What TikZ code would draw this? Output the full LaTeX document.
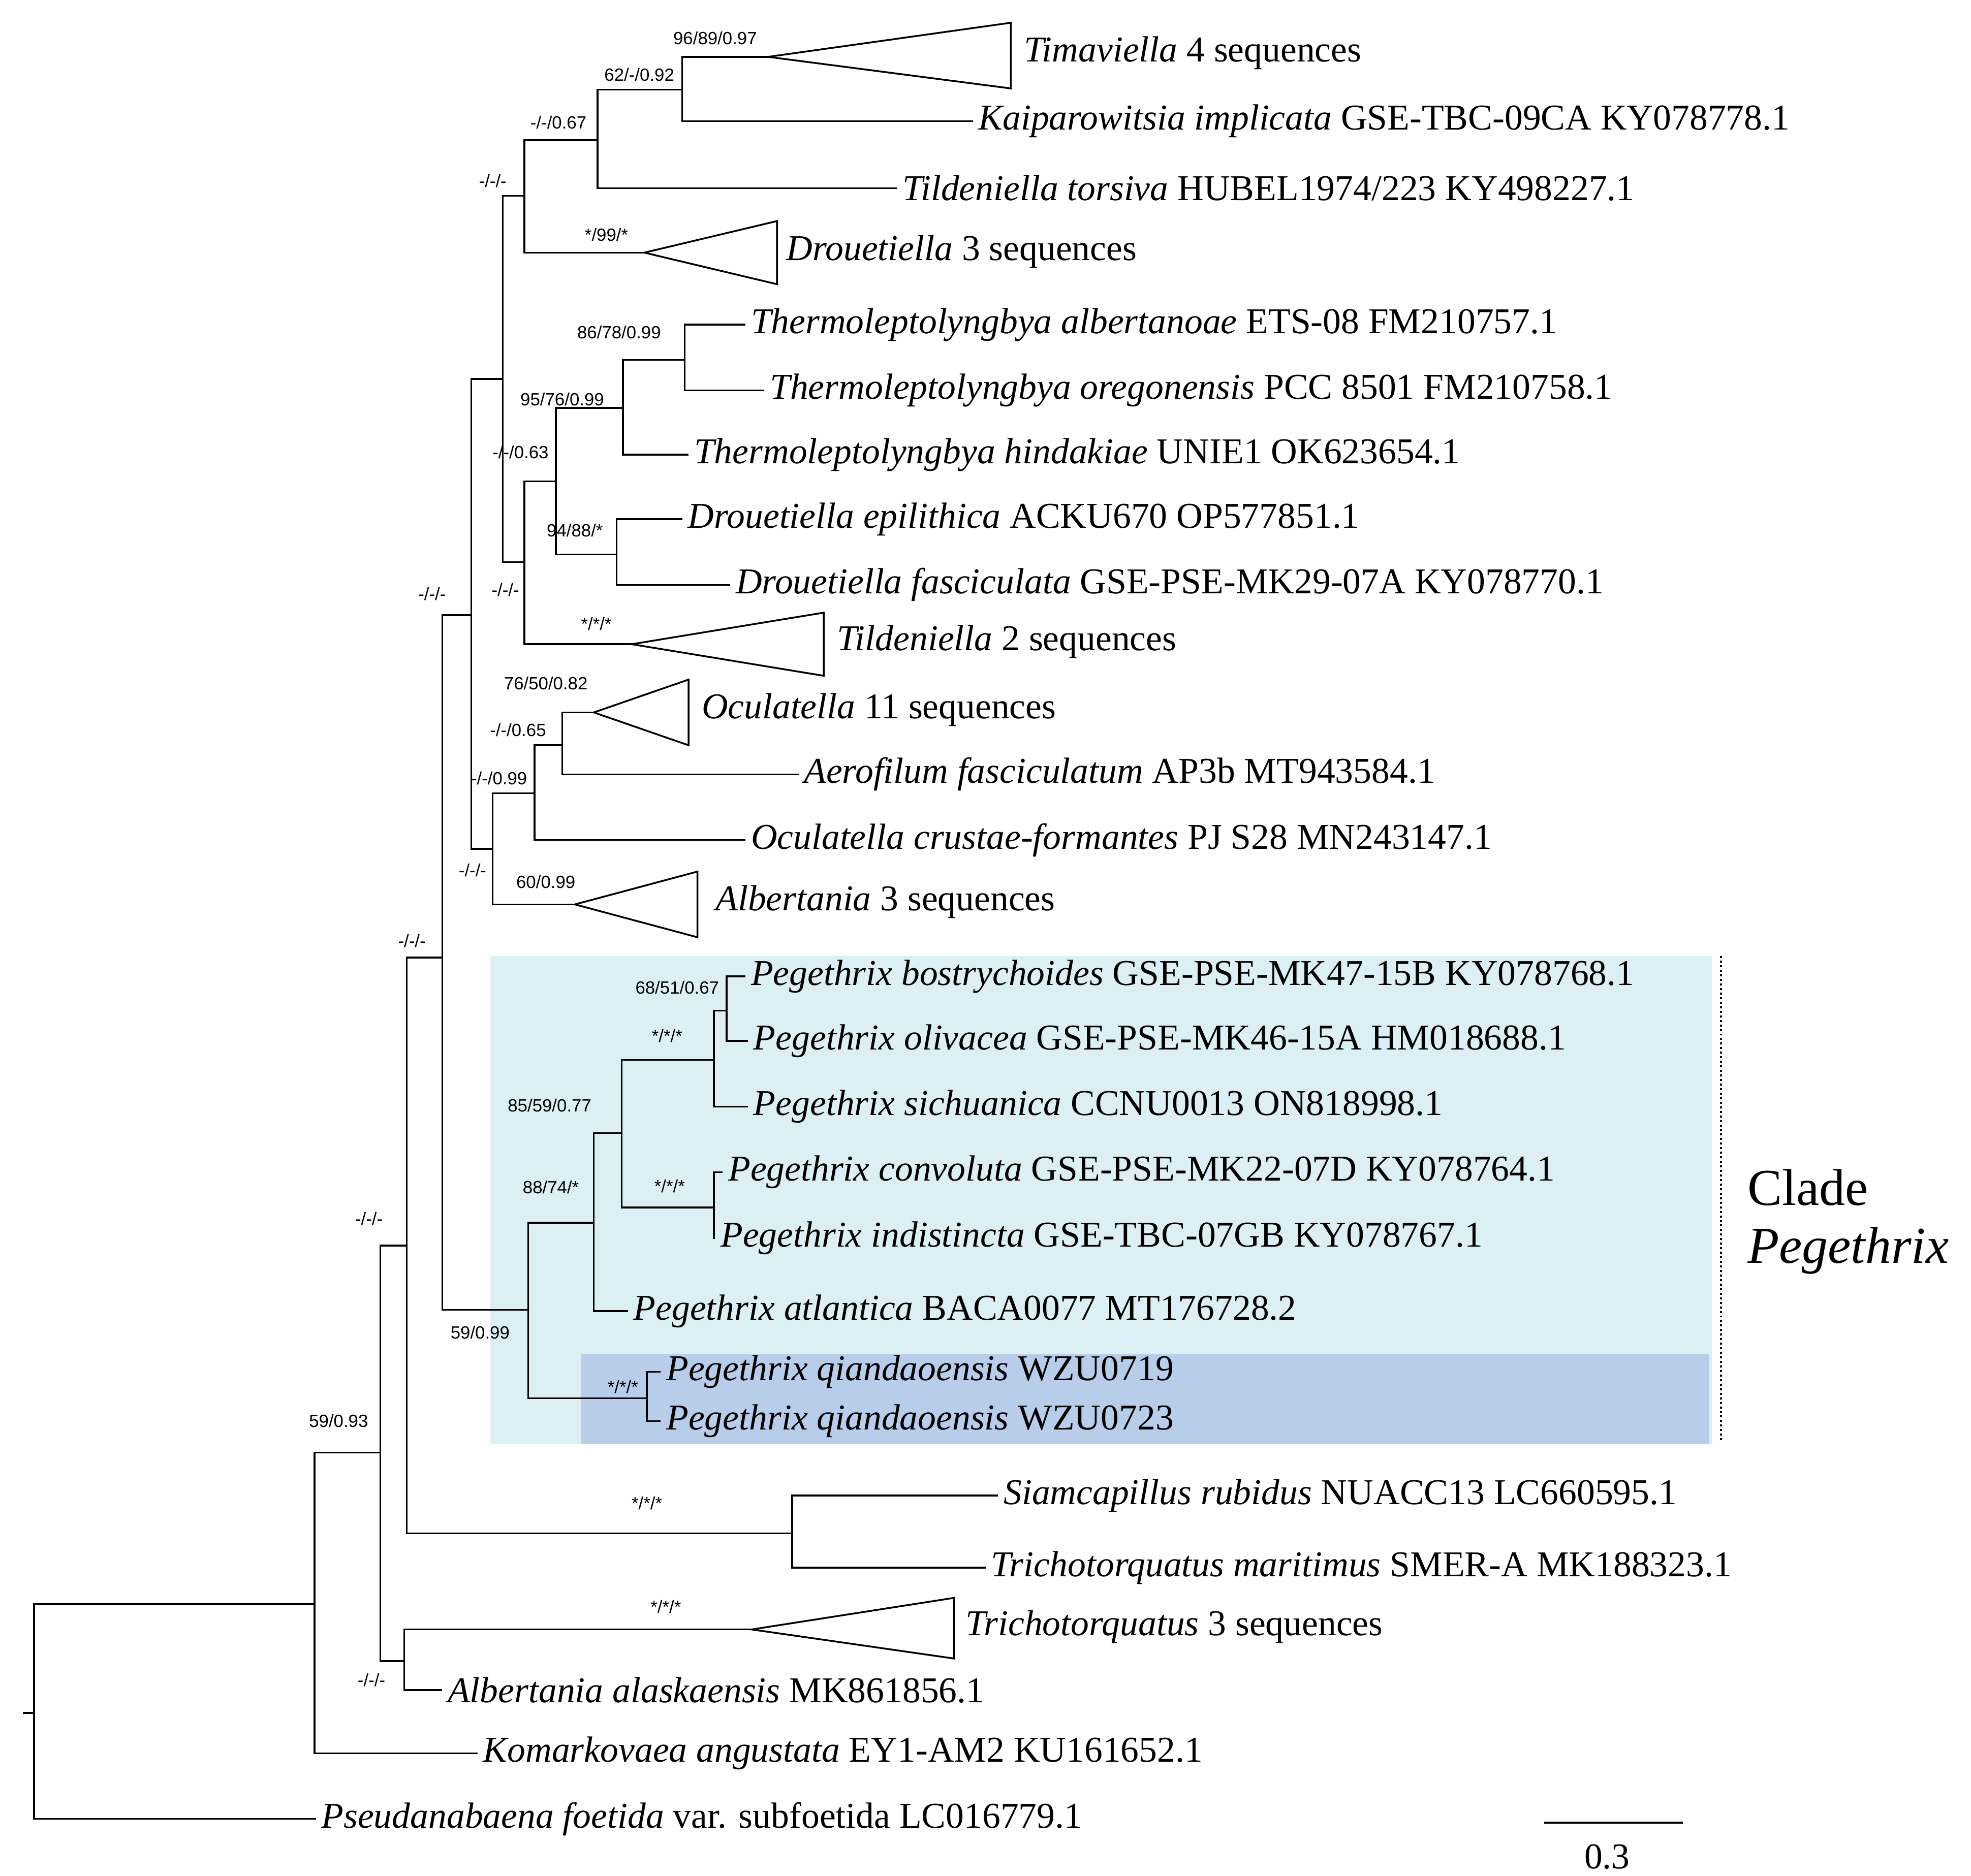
\documentclass[tikz,border=0pt]{standalone}
\usepackage{fontspec}
\setmainfont{Liberation Serif}
\newfontfamily\supfont{Liberation Sans}
\usetikzlibrary{positioning}
\definecolor{cladeblue}{HTML}{DCEFF4}
\definecolor{qianblue}{HTML}{B8CDE9}
\begin{document}
\begin{tikzpicture}[x=0.5pt,y=-0.5pt]
\tikzstyle{br} = [draw, line width=0.7pt]
\tikzstyle{tip} = [anchor=west, inner sep=2pt, font=\fontsize{14.4}{15}\selectfont]
\tikzstyle{sup} = [inner sep=0pt, font=\supfont\fontsize{7}{8}\selectfont]
\tikzstyle{tri} = [draw, line width=0.7pt, fill=white]
\useasboundingbox (0,0) rectangle (1560,1485);

% clade boxes
\fill [cladeblue] (388,757) rectangle (1355,1143);
\fill [qianblue] (460,1072) rectangle (1353,1143);
\draw [densely dotted, line width=0.8pt] (1362,757) -- (1362,1142);
\node [anchor=west, font=\fontsize{20.5}{22}\selectfont] (cl) at (1376,940) {Clade};
\node [anchor=west, font=\fontsize{20.5}{22}\selectfont\itshape] (clp) at (1376,990) {Pegethrix};

% internal nodes
\coordinate (nTK) at (540,71);
\coordinate (nA) at (473,111);
\coordinate (nB) at (415,155);
\coordinate (nTh1) at (542,285);
\coordinate (nTh2) at (493,323);
\coordinate (nDr) at (488,439);
\coordinate (nTD) at (440,381);
\coordinate (nTT) at (415,445);
\coordinate (nUp) at (398,300);
\coordinate (nOA) at (445,590);
\coordinate (nOO) at (423,628);
\coordinate (nOAl) at (390,672);
\coordinate (nMid) at (373,487);
\coordinate (nP6) at (575,800);
\coordinate (nP5) at (565,839);
\coordinate (nP4) at (565,956);
\coordinate (nP3) at (492,897);
\coordinate (nP2) at (470,968);
\coordinate (nQ) at (512,1107);
\coordinate (nP1) at (418,1037);
\coordinate (nM2) at (350,758);
\coordinate (nST) at (627,1214);
\coordinate (nM3) at (322,986);
\coordinate (nTA) at (320,1315);
\coordinate (nM4) at (301,1150);
\coordinate (nM5) at (249,1270);
\coordinate (root) at (27,1356);
\coordinate (stub) at (18,1356);

% collapsed clades (apex coordinates)
\coordinate (aTim) at (608,45);
\coordinate (aDro) at (510,200);
\coordinate (aTil) at (500,510);
\coordinate (aOcu) at (470,564);
\coordinate (aAlb) at (455,716);
\coordinate (aTri) at (595,1290);
\draw [tri] (aTim) -- (800,18) -- (800,70) -- cycle;
\draw [tri] (aDro) -- (615,175) -- (615,225) -- cycle;
\draw [tri] (aTil) -- (652,485) -- (652,535) -- cycle;
\draw [tri] (aOcu) -- (545,538) -- (545,590) -- cycle;
\draw [tri] (aAlb) -- (552,690) -- (552,742) -- cycle;
\draw [tri] (aTri) -- (755,1265) -- (755,1313) -- cycle;

% tips
\node [tip] (tTim) at (806,42) {\textit{Timaviella} 4 sequences};
\node [tip] (tKai) at (770,96) {\textit{Kaiparowitsia implicata} GSE-TBC-09CA KY078778.1};
\node [tip] (tTor) at (710,149) {\textit{Tildeniella torsiva} HUBEL1974/223 KY498227.1};
\node [tip] (tDro) at (618,199) {\textit{Drouetiella} 3 sequences};
\node [tip] (tAlbe) at (590,257) {\textit{Thermoleptolyngbya albertanoae} ETS-08 FM210757.1};
\node [tip] (tOre) at (605,309) {\textit{Thermoleptolyngbya oregonensis} PCC 8501 FM210758.1};
\node [tip] (tHin) at (545,360) {\textit{Thermoleptolyngbya hindakiae} UNIE1 OK623654.1};
\node [tip] (tEpi) at (540,411) {\textit{Drouetiella epilithica} ACKU670 OP577851.1};
\node [tip] (tFas) at (578,463) {\textit{Drouetiella fasciculata} GSE-PSE-MK29-07A KY078770.1};
\node [tip] (tTil) at (658,508) {\textit{Tildeniella} 2 sequences};
\node [tip] (tOcu) at (551,562) {\textit{Oculatella} 11 sequences};
\node [tip] (tAer) at (632,613) {\textit{Aerofilum fasciculatum} AP3b MT943584.1};
\node [tip] (tCru) at (590,665) {\textit{Oculatella crustae-formantes} PJ S28 MN243147.1};
\node [tip] (tAlb) at (562,714) {\textit{Albertania} 3 sequences};
\node [tip] (tBos) at (590,773) {\textit{Pegethrix bostrychoides} GSE-PSE-MK47-15B KY078768.1};
\node [tip] (tOli) at (592,824) {\textit{Pegethrix olivacea} GSE-PSE-MK46-15A HM018688.1};
\node [tip] (tSic) at (592,876) {\textit{Pegethrix sichuanica} CCNU0013 ON818998.1};
\node [tip] (tCon) at (572,928) {\textit{Pegethrix convoluta} GSE-PSE-MK22-07D KY078764.1};
\node [tip] (tInd) at (566,980) {\textit{Pegethrix indistincta} GSE-TBC-07GB KY078767.1};
\node [tip] (tAtl) at (497,1038) {\textit{Pegethrix atlantica} BACA0077 MT176728.2};
\node [tip] (tQ1) at (523,1086) {\textit{Pegethrix qiandaoensis} WZU0719};
\node [tip] (tQ2) at (523,1125) {\textit{Pegethrix qiandaoensis} WZU0723};
\node [tip] (tSia) at (790,1184) {\textit{Siamcapillus rubidus} NUACC13 LC660595.1};
\node [tip] (tMar) at (780,1241) {\textit{Trichotorquatus maritimus} SMER-A MK188323.1};
\node [tip] (tTri) at (760,1288) {\textit{Trichotorquatus} 3 sequences};
\node [tip] (tAla) at (350,1338) {\textit{Albertania alaskaensis} MK861856.1};
\node [tip] (tKom) at (378,1388) {\textit{Komarkovaea angustata} EY1-AM2 KU161652.1};
\node [tip] (tPse) at (250,1440) {\textit{Pseudanabaena foetida} var. subfoetida LC016779.1};

% branches
\path [br] (nTK) |- (aTim) (nTK) |- (tKai.west);
\path [br] (nA) |- (nTK) (nA) |- (tTor.west);
\path [br] (nB) |- (nA) (nB) |- (aDro);
\path [br] (nTh1) |- (tAlbe.west) (nTh1) |- (tOre.west);
\path [br] (nTh2) |- (nTh1) (nTh2) |- (tHin.west);
\path [br] (nDr) |- (tEpi.west) (nDr) |- (tFas.west);
\path [br] (nTD) |- (nTh2) (nTD) |- (nDr);
\path [br] (nTT) |- (nTD) (nTT) |- (aTil);
\path [br] (nUp) |- (nB) (nUp) |- (nTT);
\path [br] (nOA) |- (aOcu) (nOA) |- (tAer.west);
\path [br] (nOO) |- (nOA) (nOO) |- (tCru.west);
\path [br] (nOAl) |- (nOO) (nOAl) |- (aAlb);
\path [br] (nMid) |- (nUp) (nMid) |- (nOAl);
\path [br] (nP6) |- (tBos.west) (nP6) |- (tOli.west);
\path [br] (nP5) |- (nP6) (nP5) |- (tSic.west);
\path [br] (nP4) |- (tCon.west) (nP4) |- (tInd.west);
\path [br] (nP3) |- (nP5) (nP3) |- (nP4);
\path [br] (nP2) |- (nP3) (nP2) |- (tAtl.west);
\path [br] (nQ) |- (tQ1.west) (nQ) |- (tQ2.west);
\path [br] (nP1) |- (nP2) (nP1) |- (nQ);
\path [br] (nM2) |- (nMid) (nM2) |- (nP1);
\path [br] (nST) |- (tSia.west) (nST) |- (tMar.west);
\path [br] (nM3) |- (nM2) (nM3) |- (nST);
\path [br] (nTA) |- (aTri) (nTA) |- (tAla.west);
\path [br] (nM4) |- (nM3) (nM4) |- (nTA);
\path [br] (nM5) |- (nM4) (nM5) |- (tKom.west);
\path [br] (root) |- (nM5) (root) |- (tPse.west);
\path [br] (stub) -- (root);

% support values
\node [sup] at (566,30) {96/89/0.97};
\node [sup] at (506,59) {62/-/0.92};
\node [sup] at (442,97) {-/-/0.67};
\node [sup] at (390,143) {-/-/-};
\node [sup] at (480,186) {*/99/*};
\node [sup] at (490,263) {86/78/0.99};
\node [sup] at (445,316) {95/76/0.99};
\node [sup] at (412,358) {-/-/0.63};
\node [sup] at (455,420) {94/88/*};
\node [sup] at (400,467) {-/-/-};
\node [sup] at (472,494) {*/*/*};
\node [sup] at (342,470) {-/-/-};
\node [sup] at (432,541) {76/50/0.82};
\node [sup] at (410,578) {-/-/0.65};
\node [sup] at (395,616) {-/-/0.99};
\node [sup] at (374,689) {-/-/-};
\node [sup] at (432,698) {60/0.99};
\node [sup] at (326,745) {-/-/-};
\node [sup] at (536,782) {68/51/0.67};
\node [sup] at (528,820) {*/*/*};
\node [sup] at (435,875) {85/59/0.77};
\node [sup] at (530,939) {*/*/*};
\node [sup] at (436,940) {88/74/*};
\node [sup] at (380,1055) {59/0.99};
\node [sup] at (493,1098) {*/*/*};
\node [sup] at (292,965) {-/-/-};
\node [sup] at (512,1190) {*/*/*};
\node [sup] at (527,1272) {*/*/*};
\node [sup] at (294,1330) {-/-/-};
\node [sup] at (268,1125) {59/0.93};

% scale bar
\coordinate (sb1) at (1222,1443);
\coordinate (sb2) at (1332,1443);
\path [br] (sb1) -- (sb2);
\node [font=\fontsize{14.4}{15}\selectfont] (sbl) at (1272,1470) {0.3};
\end{tikzpicture}
\end{document}
